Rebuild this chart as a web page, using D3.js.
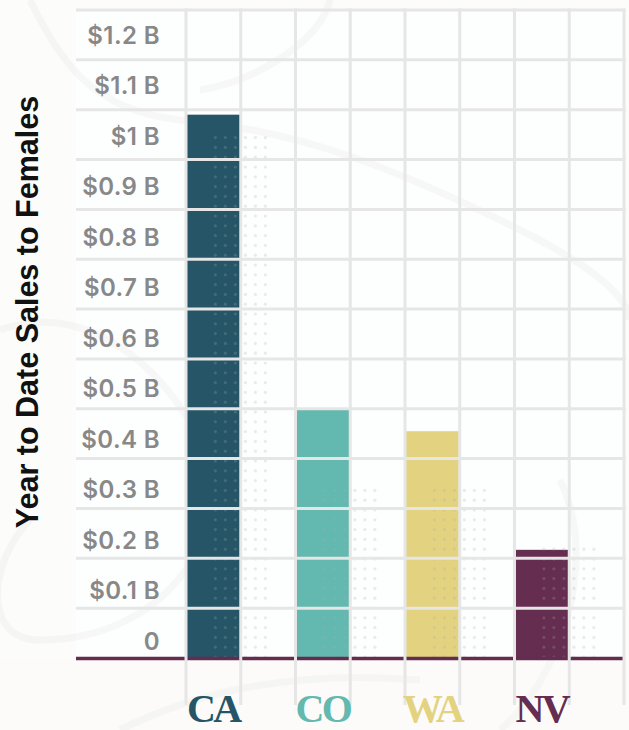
<!DOCTYPE html>
<html>
<head>
<meta charset="utf-8">
<script src="https://cdn.jsdelivr.net/npm/d3@7/dist/d3.min.js"></script>
<style>
  html, body { margin: 0; padding: 0; background: #fcfcfb; }
  svg { display: block; }
</style>
</head>
<body>
<svg id="chart" width="629" height="730"></svg>
<script>
// ---- data ----
const categories = ["CA", "CO", "WA", "NV"];
const salesBillions = [1.09, 0.50, 0.455, 0.217];
const dotBillions = [1.044, 0.336, 0.336, 0.218];
const barColors = ["#255567", "#63b9af", "#e3d27f", "#652d50"];
const tickValues = [0, 0.1, 0.2, 0.3, 0.4, 0.5, 0.6, 0.7, 0.8, 0.9, 1.0, 1.1, 1.2];
const tickLabels = ["0", "$0.1 B", "$0.2 B", "$0.3 B", "$0.4 B", "$0.5 B", "$0.6 B", "$0.7 B", "$0.8 B", "$0.9 B", "$1 B", "$1.1 B", "$1.2 B"];
const gridValues = [0.1, 0.2, 0.3, 0.4, 0.5, 0.6, 0.7, 0.8, 0.9, 1.0, 1.1, 1.2, 1.3];
const yTitle = "Year to Date Sales to Females";

// ---- layout ----
const svg = d3.select("#chart");
const W = 629, H = 730;
const gridLeft = 76, plotLeft = 186, plotRight = 624;
const y = d3.scaleLinear().domain([0, 1.3]).range([658, 10]);
const yLab = d3.scaleLinear().domain([0, 1.2]).range([641, 35]);
const x = d3.scaleBand().domain(categories).range([plotLeft, plotRight]).padding(0);
const bw = x.bandwidth();

// background
svg.append("rect").attr("width", W).attr("height", H).attr("fill", "#fcfcfb");
svg.append("rect").attr("x", gridLeft).attr("y", y(1.3)).attr("width", plotRight - gridLeft).attr("height", y(0) - y(1.3)).attr("fill", "#fdfefe");
svg.append("rect").attr("x", 0).attr("y", y(0)).attr("width", W).attr("height", H - y(0)).attr("fill", "#fcfbf9");

// faint decorative curves
const deco = svg.append("g").attr("fill", "none").attr("stroke", "#f2f3f1").attr("stroke-width", 7).attr("opacity", 0.6);
deco.append("path").attr("d", "M30,0 C60,60 90,110 180,120 C300,130 400,170 520,230 C600,270 629,300 629,320");
deco.append("path").attr("d", "M0,330 C80,300 160,360 200,440 C240,540 160,640 40,640 C-20,640 -10,560 30,520");
deco.append("path").attr("d", "M330,0 C320,40 260,80 200,90");
deco.append("path").attr("d", "M560,480 C600,560 560,680 500,730");
deco.append("path").attr("d", "M120,730 C200,690 300,670 420,680");

// bars
svg.append("g").selectAll("rect").data(categories).join("rect")
  .attr("x", d => x(d))
  .attr("y", (d, i) => y(salesBillions[i]))
  .attr("width", bw / 2)
  .attr("height", (d, i) => y(0) - y(salesBillions[i]))
  .attr("fill", (d, i) => barColors[i]);

// dot texture
const dotStep = 9.8;
const dots = [];
categories.forEach((c, i) => {
  const cx0 = x(c) + bw / 4 + 2;
  const top = y(dotBillions[i]) - 2;
  for (let yy = y(0) - 1; yy >= top; yy -= dotStep) {
    for (let k = 0; k < 6; k++) dots.push({ cx: cx0 + k * 10, cy: yy });
  }
});
svg.append("g").selectAll("circle").data(dots).join("circle")
  .attr("cx", d => d.cx).attr("cy", d => d.cy).attr("r", 1.6)
  .attr("fill", "#a3aeb2").attr("opacity", 0.24);

// baseline
svg.append("line")
  .attr("x1", gridLeft).attr("x2", plotRight)
  .attr("y1", y(0) + 0.5).attr("y2", y(0) + 0.5)
  .attr("stroke", "#642d4f").attr("stroke-width", 3.5);

// horizontal gridlines
svg.append("g").selectAll("line").data(gridValues).join("line")
  .attr("x1", gridLeft).attr("x2", plotRight + 1.5)
  .attr("y1", d => y(d)).attr("y2", d => y(d))
  .attr("stroke", "#e6e6e6").attr("stroke-width", 3);

// vertical gridlines
const vx = [];
categories.forEach(c => { vx.push(x(c)); vx.push(x(c) + bw / 2); });
vx.push(plotRight);
svg.append("g").selectAll("line").data(vx).join("line")
  .attr("x1", d => d).attr("x2", d => d)
  .attr("y1", y(1.3) - 1.5).attr("y2", 705)
  .attr("stroke", "#e6e6e6").attr("stroke-width", 3);

// y tick labels
svg.append("g").selectAll("text").data(tickValues).join("text")
  .attr("x", 160)
  .attr("y", d => yLab(d))
  .attr("dy", "0.36em")
  .attr("text-anchor", "end")
  .attr("font-family", "Inter, 'Noto Sans', sans-serif")
  .attr("font-weight", 600)
  .attr("font-size", 24)
  .attr("letter-spacing", 0.4)
  .attr("fill", "#888888")
  .text((d, i) => tickLabels[i]);

// y title
svg.append("text")
  .attr("transform", `translate(38, ${312}) rotate(-90)`)
  .attr("text-anchor", "middle")
  .attr("font-family", "'Liberation Sans', Arial, sans-serif")
  .attr("font-weight", 600)
  .attr("font-size", 30.5)
  .attr("fill", "#111")
  .text(yTitle);

// category labels
svg.append("g").selectAll("text").data(categories).join("text")
  .attr("x", d => x(d) + bw / 4)
  .attr("y", 722)
  .attr("text-anchor", "middle")
  .attr("font-family", "'Liberation Serif', 'DejaVu Serif', serif")
  .attr("font-weight", 700)
  .attr("font-size", 40)
  .attr("letter-spacing", -2.5)
  .attr("fill", (d, i) => barColors[i])
  .text(d => d);
</script>
</body>
</html>
